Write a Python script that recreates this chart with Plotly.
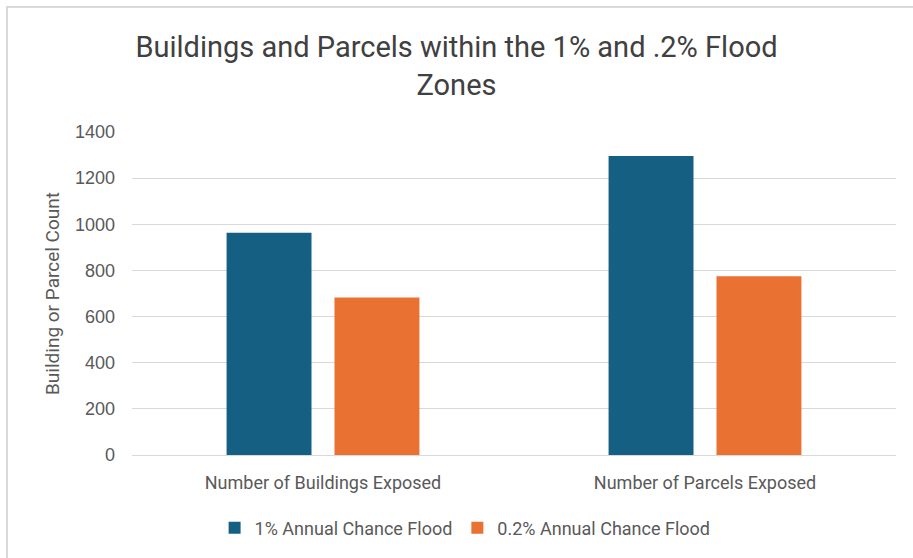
import plotly.graph_objects as go

categories = ["Number of Buildings Exposed", "Number of Parcels Exposed"]
series_names = ["1% Annual Chance Flood", "0.2% Annual Chance Flood"]
one_pct_values = [963, 1296]
point_two_pct_values = [683, 775]
y_ticks = [0, 200, 400, 600, 800, 1000, 1200, 1400]

blue = "#156082"
orange = "#E97132"
font_main = "Roboto, Arial"
text_gray = "#595959"

fig = go.Figure()
fig.add_trace(go.Bar(x=categories, y=one_pct_values, name=series_names[0],
                     marker=dict(color=blue, line=dict(width=0))))
fig.add_trace(go.Bar(x=categories, y=point_two_pct_values, name=series_names[1],
                     marker=dict(color=orange, line=dict(width=0))))

fig.update_layout(
    width=913, height=558,
    paper_bgcolor="white", plot_bgcolor="white",
    margin=dict(l=132, r=17, t=132, b=103, autoexpand=False),
    barmode="group", bargap=0.435, bargroupgap=0.213,
    title=dict(text="Buildings and Parcels within the 1% and .2% Flood<br>Zones",
               x=0.5, xanchor="center", y=0.898, yanchor="top",
               font=dict(family=font_main, size=29, color="#404040")),
    xaxis=dict(showgrid=False, showline=False, ticks="",
               ticklabelstandoff=15,
               tickfont=dict(family=font_main, size=18, color=text_gray)),
    yaxis=dict(range=[0, 1400], tickvals=y_ticks, showgrid=True,
               gridcolor="#d9d9d9", gridwidth=1, zeroline=True,
               zerolinecolor="#d9d9d9", zerolinewidth=1, ticks="",
               ticklabelstandoff=16,
               tickfont=dict(family="Liberation Sans, Arial", size=18, color=text_gray),
               title=dict(text="Building or Parcel Count", standoff=10,
                          font=dict(family=font_main, size=19, color=text_gray))),
    legend=dict(orientation="h", x=0.436, xanchor="center", y=-0.226, yanchor="middle",
                font=dict(family=font_main, size=18, color=text_gray),
                itemwidth=30, traceorder="normal"),
    shapes=[dict(type="rect", xref="paper", yref="paper", x0=-0.1636, x1=1.05,
                 y0=-0.5, y1=1.387, line=dict(color="#d9d9d9", width=2),
                 fillcolor="rgba(0,0,0,0)", layer="below")],
)

fig.write_html("out.html")
